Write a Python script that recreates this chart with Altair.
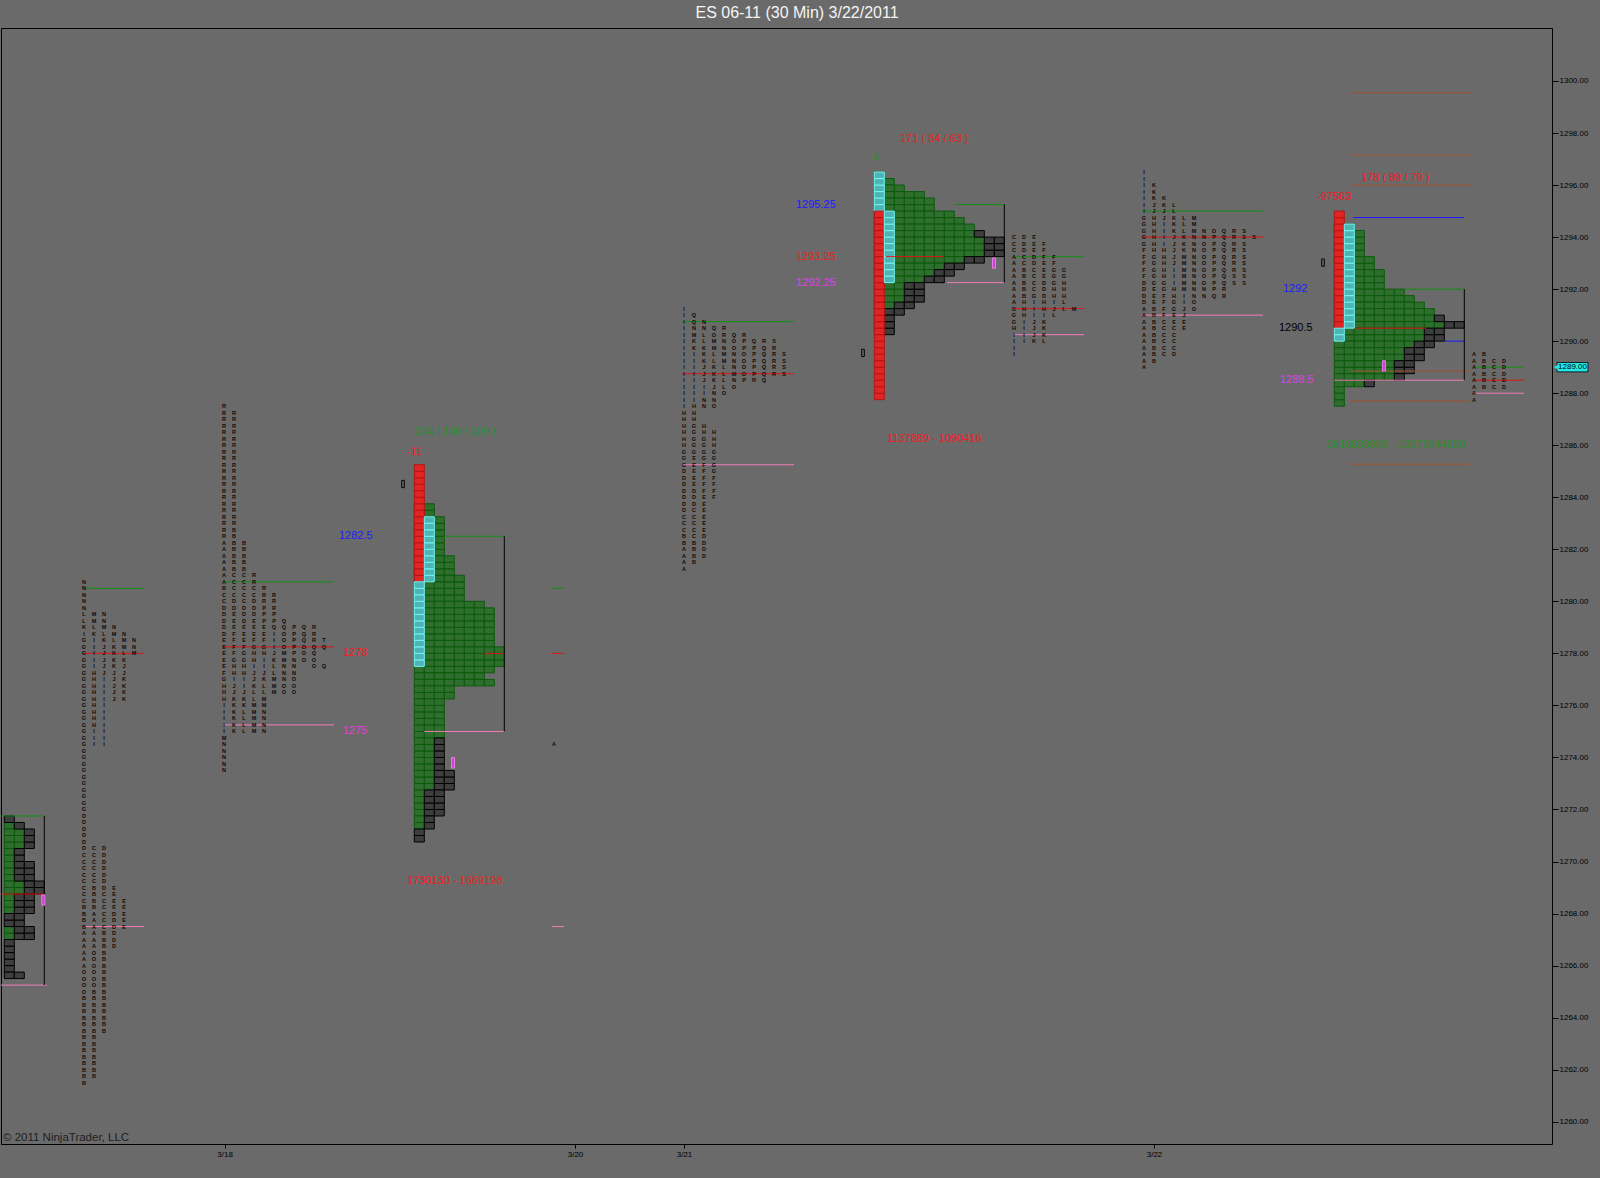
import altair as alt
import pandas as pd

TICK = 0.25  # ES tick size

TITLE = "ES 06-11 (30 Min)  3/22/2011"
COPYRIGHT = "© 2011 NinjaTrader, LLC"
LAST_PRICE = 1289.00

PRICE_TICKS = [1260, 1262, 1264, 1266, 1268, 1270, 1272, 1274, 1276, 1278, 1280,
               1282, 1284, 1286, 1288, 1290, 1292, 1294, 1296, 1298, 1300]
# session dates on the bar-slot axis
DATE_SLOTS = [22.36, 57.4, 68.3, 115.3]
DATE_LABELS = ["3/18", "3/20", "3/21", "3/22"]

# ---- volume profiles: rows are (low, high, volume columns, recent columns) ----
P0_START = 0.33
P0_ROWS = [
    (1271.50, 1271.75, 0, 1),
    (1271.25, 1271.50, 1, 1),
    (1270.50, 1271.25, 2, 1),
    (1270.00, 1270.50, 1, 1),
    (1269.25, 1270.00, 1, 2),
    (1268.75, 1269.25, 2, 2),
    (1268.00, 1268.75, 1, 2),
    (1267.50, 1268.00, 0, 2),
    (1267.00, 1267.50, 1, 2),
    (1265.75, 1267.00, 0, 1),
    (1265.50, 1265.75, 0, 2),
]
P0_BANDS = []

P3_START = 41.33
P3_ROWS = [
    (1283.25, 1283.75, 2, 0),
    (1281.75, 1283.25, 3, 0),
    (1281.00, 1281.75, 4, 0),
    (1280.00, 1281.00, 5, 0),
    (1279.75, 1280.00, 7, 0),
    (1278.25, 1279.75, 8, 0),
    (1277.50, 1278.25, 9, 0),
    (1277.25, 1277.50, 8, 0),
    (1277.00, 1277.25, 7, 0),
    (1276.75, 1277.00, 8, 0),
    (1276.25, 1276.75, 4, 0),
    (1274.75, 1276.25, 3, 0),
    (1273.50, 1274.75, 2, 1),
    (1272.75, 1273.50, 2, 2),
    (1271.75, 1272.75, 1, 2),
    (1271.25, 1271.75, 1, 1),
    (1270.75, 1271.25, 0, 1),
]
# (column, band, low, high): initial balance (red) and opening range (cyan)
P3_BANDS = [(0, "ib", 1280.75, 1285.25), (0, "or", 1277.50, 1280.75), (1, "or", 1280.75, 1283.25)]

P5_START = 87.33
P5_ROWS = [
    (1296.25, 1296.50, 1, 0),
    (1296.00, 1296.25, 2, 0),
    (1295.75, 1296.00, 3, 0),
    (1295.50, 1295.75, 5, 0),
    (1295.00, 1295.50, 6, 0),
    (1294.75, 1295.00, 8, 0),
    (1294.50, 1294.75, 9, 0),
    (1294.25, 1294.50, 10, 0),
    (1294.00, 1294.25, 10, 1),
    (1293.25, 1294.00, 11, 2),
    (1293.00, 1293.25, 9, 2),
    (1292.75, 1293.00, 7, 2),
    (1292.50, 1292.75, 6, 2),
    (1292.25, 1292.50, 5, 2),
    (1291.50, 1292.25, 3, 2),
    (1291.25, 1291.50, 2, 2),
    (1291.00, 1291.25, 1, 2),
    (1290.25, 1291.00, 1, 1),
]
P5_BANDS = [(0, "or", 1295.00, 1296.50), (0, "ib", 1287.75, 1295.00), (1, "or", 1292.25, 1295.00)]

P6_START = 133.33
P6_ROWS = [
    (1294.25, 1294.50, 2, 0),
    (1293.25, 1294.25, 3, 0),
    (1292.75, 1293.25, 4, 0),
    (1292.00, 1292.75, 5, 0),
    (1291.75, 1292.00, 7, 0),
    (1291.50, 1291.75, 8, 0),
    (1291.25, 1291.50, 9, 0),
    (1291.00, 1291.25, 10, 0),
    (1290.75, 1291.00, 10, 1),
    (1290.50, 1290.75, 11, 2),
    (1290.00, 1290.50, 9, 2),
    (1289.75, 1290.00, 8, 2),
    (1289.25, 1289.75, 7, 2),
    (1288.75, 1289.25, 6, 2),
    (1288.50, 1288.75, 6, 1),
    (1288.25, 1288.50, 3, 1),
    (1287.50, 1288.25, 1, 0),
]
P6_BANDS = [(0, "ib", 1290.50, 1295.00), (0, "or", 1290.00, 1290.50), (1, "or", 1290.50, 1294.50)]

PROFILES = [
    (P0_START, P0_ROWS, P0_BANDS),
    (P3_START, P3_ROWS, P3_BANDS),
    (P5_START, P5_ROWS, P5_BANDS),
    (P6_START, P6_ROWS, P6_BANDS),
]

# ---- letter (TPO) profiles: (slot, top price, letters from the top down) ----
TPO_COLUMNS = [
    # 3/17
    (8.3, 1280.75, "NNNNNLLKIG" "GGGGGGGGGG" "GGGGGGGGGG" "GGGGGGDDDD" "DDCCCCCCCC"
                   "BBBBAAAAAA" "OOOOBBBBBB" "BBBBBBBB"),
    (9.3, 1279.50, "MMLKIIIIIH" "HHHHHHHHII" "I"),
    (9.3, 1270.50, "CCCCCCBBBB" "AAAAAAOOOO" "OOBBBBBBBB" "BBBBBB"),
    (10.3, 1279.50, "NNMLKJJJJJ" "IIIIIIIIII" "I"),
    (10.3, 1270.50, "DDDDDDDCCC" "CCCBBBBBBB" "BBBBBBBBB"),
    (11.3, 1279.00, "NMLKKKKJJJJJ"),
    (11.3, 1269.00, "EEEEDDDDDD"),
    (12.3, 1278.75, "NMMLKJJKKKK"),
    (12.3, 1268.50, "EEEEE"),
    (13.3, 1278.50, "NNM"),
    # 3/18
    (22.3, 1287.50, "RRRRRRRRRR" "RRRRRRRRRR" "RAAAAAAABC" "CDDDDDEEEE" "EFGHHHIIII" "IMNNNNN"),
    (23.3, 1287.25, "RRRRRRRRRR" "RRRRRRRRBB" "BBBBBCCCCD" "DEEEFFFFGH" "HIJJKKKKKK"),
    (24.3, 1282.25, "BBBBBCCCCC" "DDDEEEFGGH" "HIIJKKLLLL"),
    (25.3, 1281.00, "RRCCDDDEEE" "FGHHIJJKLL" "MMMMM"),
    (26.3, 1280.50, "RRRPPPEEFG" "HIIJKLLMMN" "NNN"),
    (27.3, 1280.25, "RRRPPQIIIJ" "KLLMMM"),
    (28.3, 1279.25, "QQOOOMMNNNOO"),
    (29.3, 1279.00, "PPPPPNNNOOO"),
    (30.3, 1279.00, "QQQOOO"),
    (31.3, 1279.00, "RRRQQOO"),
    (32.3, 1278.50, "TQ  Q"),
    # Sunday open
    (55.3, 1274.50, "A"),
    # 3/21 night
    (68.3, 1291.25, "IIIIIIIIII" "IIIIIIHHHH" "HHGGGDDDDD" "DDCCCBBAAA" "A"),
    (69.3, 1291.00, "QQNMKKIIII" "IIIIHHHGGG" "GGEEEEEDDD" "CCCCCBBBB"),
    (70.3, 1290.75, "NNLLKKKJJJ" "IINN"),
    (70.3, 1286.75, "HHGGGGFFFF" "FEEEEEEDDD" "D"),
    (71.3, 1290.50, "QOMMLLKKKJ" "NNO"),
    (71.3, 1286.50, "HHHGGGGFFF" "F"),
    (72.3, 1290.50, "RRNNMMLLLL" "O"),
    (73.3, 1290.25, "QOONNNMNO"),
    (74.3, 1290.25, "RPPOOOOP"),
    (75.3, 1290.00, "QPPPPPR"),
    (76.3, 1290.00, "RQQQQQQ"),
    (77.3, 1290.00, "SRRRRR"),
    (78.3, 1289.50, "SSSS"),
    # 3/21 day
    (101.3, 1294.00, "CCCAAAAAAA" "AGGGHIIII"),
    (102.3, 1294.00, "DDDCCBBBBB" "HHHIIII"),
    (103.3, 1294.00, "EEEDDCCCCG" "IIIJJJK"),
    (104.3, 1293.75, "FFFEEEDDDH" "HIKKKL"),
    (105.3, 1293.25, "FFGGGHHIJL"),
    (106.3, 1292.75, "GGHHHLL"),
    (107.3, 1291.25, "M"),
    # 3/22 night
    (114.3, 1296.50, "IIIIIIIGGG" "GGFFFFFDDD" "DAAAAAAAAA" "A"),
    (115.3, 1296.00, "KKKJJHHHHH" "HGGGGGEEEB" "BBBBBBBB"),
    (116.3, 1295.50, "KKJJIIIIHH" "HHHGGFFFFC" "CCCCC"),
    (117.3, 1295.25, "LLKKKJJJJJ" "IIIHHGGEEC" "CCCD"),
    (118.3, 1294.75, "LLLKKKMMMM" "MMIIJJEE"),
    (119.3, 1294.75, "MMMNNNNNNN" "NNNOO"),
    (120.3, 1294.25, "NNOOOOOOONN"),
    (121.3, 1294.25, "OPPPPPPPPPQ"),
    (122.3, 1294.25, "QQQQQQQQQRR"),
    (123.3, 1294.25, "RRRRRRRSS"),
    (124.3, 1294.25, "SSSSSSSSS"),
    (125.3, 1294.00, "S"),
    # 3/22 day
    (147.3, 1289.50, "AAAAAAAA"),
    (148.3, 1289.50, "BBBBBB"),
    (149.3, 1289.25, "CCCCC"),
    (150.3, 1289.25, "DDDDD"),
]

# ---- reference levels: (price, from slot, to slot, level type) ----
LEVELS = [
    (1271.75, 0.0, 4.33, "vah"), (1268.75, 0.0, 4.5, "poc"), (1265.25, 0.0, 4.57, "val"),
    (1280.50, 8.2, 14.3, "vah"), (1278.00, 8.2, 14.3, "poc"), (1267.50, 8.4, 14.3, "val"),
    (1280.75, 22.2, 33.3, "vah"), (1278.25, 22.2, 33.3, "poc"), (1275.25, 22.2, 33.3, "val"),
    (1282.50, 44.33, 50.33, "vah"), (1278.00, 48.33, 50.33, "poc"), (1275.00, 42.33, 50.33, "val"),
    (1280.50, 55.1, 56.3, "vah"), (1278.00, 55.1, 56.3, "poc"), (1267.50, 55.1, 56.3, "val"),
    (1290.75, 68.1, 79.3, "vah"), (1288.75, 68.1, 79.3, "poc"), (1285.25, 68.1, 79.3, "val"),
    (1295.25, 95.33, 100.33, "vah"), (1293.25, 88.5, 94.3, "poc"), (1292.25, 94.6, 100.33, "val"),
    (1293.25, 101.2, 108.3, "vah"), (1291.25, 101.2, 108.3, "poc"), (1290.25, 101.2, 108.3, "val"),
    (1295.00, 114.1, 126.2, "vah"), (1294.00, 114.1, 126.2, "poc"), (1291.00, 114.1, 126.2, "val"),
    (1299.55, 135.0, 147.0, "ext"), (1297.15, 135.0, 147.0, "ext"), (1296.00, 135.0, 147.0, "ext"),
    (1288.85, 135.0, 146.8, "ext"), (1287.70, 134.9, 146.8, "ext"), (1285.27, 134.9, 146.8, "ext"),
    (1294.75, 135.2, 146.3, "ib"), (1290.00, 144.37, 146.33, "ib"),
    (1292.00, 140.37, 146.33, "vah"), (1290.50, 135.4, 142.5, "poc"), (1288.50, 133.33, 146.33, "val"),
    (1289.00, 147.2, 152.3, "vah"), (1288.50, 147.2, 152.3, "poc"), (1288.00, 147.2, 152.3, "val"),
]
# value-area brackets: (slot, low, high)
BRACKETS = [(4.33, 1265.25, 1271.75), (50.33, 1275.00, 1282.50),
            (100.33, 1292.25, 1295.25), (146.33, 1288.50, 1292.00)]

# ---- profile statistics: (text, slot, price, tone) ----
NOTES = [
    ("234 ( 106 / 109 )", 41.4, 1286.50, "green"),
    ("-11", 40.6, 1285.75, "red"),
    ("1282.5", 33.8, 1282.50, "blue"),
    ("1278", 34.2, 1278.00, "red"),
    ("1275", 34.2, 1275.00, "magenta"),
    ("1730130 - 1669198", 40.6, 1269.25, "red"),
    ("171 ( 84 / 63 )", 89.9, 1297.77, "red"),
    ("4", 87.2, 1297.04, "green"),
    ("1295.25", 79.5, 1295.25, "blue"),
    ("1293.25", 79.5, 1293.25, "red"),
    ("1292.25", 79.5, 1292.25, "magenta"),
    ("1137889 - 1090416", 88.6, 1286.24, "red"),
    ("178 ( 89 / 79 )", 136.0, 1296.27, "red"),
    ("-97563", 131.6, 1295.54, "red"),
    ("1292", 128.2, 1292.00, "blue"),
    ("1290.5", 127.8, 1290.50, "black"),
    ("1288.5", 127.9, 1288.50, "magenta"),
    ("2616839059 - 13079644820", 132.6, 1286.00, "green"),
]
# open markers and single-print markers: (slot, price)
OPEN_MARKS = [(40.2, 1284.51), (86.2, 1289.55), (132.2, 1293.02)]
SINGLE_MARKS = [(4.23, 1268.52), (45.2, 1273.79), (99.3, 1293.00), (138.3, 1289.05)]

# ---- styling ----
BG = "#6a6a6a"
FONT = "Liberation Sans"
BOX_FILL = {"volume": "#2f6e2f", "recent": "#3e3e3e", "ib": "#e12424", "or": "#4fb4b4"}
BOX_EDGE = {"volume": "#0b5a0b", "recent": "#000000", "ib": "#b51414", "or": "#72f6f6"}
LEVEL_COLOR = {"vah": "#129012", "poc": "#e01414", "val": "#f27cb8", "ext": "#a0522d", "ib": "#1a1aff"}
TONE_COLOR = {"green": "#2a8f2a", "red": "#ee2020", "blue": "#1c1cff",
              "magenta": "#e23ce2", "black": "#000000"}


def profile_boxes(start, rows, bands):
    boxes = []
    for low, high, n_vol, n_recent in rows:
        for s in range(round((high - low) / TICK)):
            lo = low + s * TICK
            for c in range(n_vol + n_recent):
                kind = "volume" if c < n_vol else "recent"
                boxes.append((start + c, start + c + 1, lo, lo + TICK, kind))
    for col, kind, low, high in bands:
        for s in range(round((high - low) / TICK)):
            lo = low + s * TICK
            boxes.append((start + col, start + col + 1, lo, lo + TICK, kind))
    return boxes


box_rows = []
for start, rows, bands in PROFILES:
    box_rows += profile_boxes(start, rows, bands)
boxes = pd.DataFrame(box_rows, columns=["x", "x2", "y", "y2", "kind"])
boxes["fill"] = boxes["kind"].map(BOX_FILL)
boxes["edge"] = boxes["kind"].map(BOX_EDGE)

letter_rows = []
for slot, top, letters in TPO_COLUMNS:
    for i, ch in enumerate(letters):
        if ch != " ":
            letter_rows.append((slot, top - i * TICK, ch))
letters_df = pd.DataFrame(letter_rows, columns=["x", "y", "t"])

levels = pd.DataFrame(LEVELS, columns=["y", "x", "x2", "kind"])
levels["color"] = levels["kind"].map(LEVEL_COLOR)
brackets = pd.DataFrame(BRACKETS, columns=["x", "y", "y2"])
notes = pd.DataFrame(NOTES, columns=["t", "x", "y", "tone"])
notes["color"] = notes["tone"].map(TONE_COLOR)
opens = pd.DataFrame(OPEN_MARKS, columns=["x", "y"])
singles = pd.DataFrame(SINGLE_MARKS, columns=["x", "y"])


def date_label_expr(slots, labels):
    expr = ""
    for i in range(len(slots) - 1):
        expr += f"datum.value < {(slots[i] + slots[i + 1]) / 2} ? '{labels[i]}' : "
    return expr + f"'{labels[-1]}'"


XS = alt.Scale(domain=[0, 155.1], nice=False, zero=False)
YS = alt.Scale(domain=[1259.142, 1302.037], nice=False, zero=False)
XAXIS = alt.Axis(values=DATE_SLOTS, labelExpr=date_label_expr(DATE_SLOTS, DATE_LABELS),
                 grid=False, domain=False, tickSize=4, tickColor="#000000",
                 labelColor="#000000", labelFontSize=8, labelFont=FONT, labelPadding=2,
                 labelFlush=False, labelOverlap=False, title=None)
YAXIS = alt.Axis(orient="right", values=PRICE_TICKS, format=".2f", grid=False, domain=False,
                 tickSize=6, tickColor="#000000", labelColor="#000000", labelFontSize=8,
                 labelFont=FONT, labelPadding=1, labelFlush=False, labelOverlap=False, title=None)


def X(field="x"):
    return alt.X(f"{field}:Q", scale=XS, axis=XAXIS, title=None)


def Y(field="y"):
    return alt.Y(f"{field}:Q", scale=YS, axis=YAXIS, title=None)


def box_layer(df):
    return alt.Chart(df).mark_rect(strokeWidth=1).encode(
        x=X(), x2="x2:Q", y=Y(), y2="y2:Q",
        fill=alt.Fill("fill:N", scale=None), stroke=alt.Stroke("edge:N", scale=None))


vol_layer = box_layer(boxes[boxes["kind"] == "volume"])
recent_layer = box_layer(boxes[boxes["kind"] == "recent"])
band_layer = box_layer(boxes[boxes["kind"].isin(["ib", "or"])])

level_layer = alt.Chart(levels).mark_rule(strokeWidth=1).encode(
    x=X(), x2="x2:Q", y=Y(), color=alt.Color("color:N", scale=None))
bracket_layer = alt.Chart(brackets).mark_rule(strokeWidth=1, color="#000000").encode(
    x=X(), y=Y(), y2="y2:Q")

letter_layer = alt.Chart(letters_df).mark_text(
    fontSize=5.5, fontWeight="bold", font=FONT, color="#0a0a0a", align="center", baseline="middle"
).encode(x=X(), y=Y(), text="t:N")

note_layer = alt.Chart(notes).mark_text(
    fontSize=11, font=FONT, align="left", baseline="middle"
).encode(x=X(), y=Y(), text="t:N", color=alt.Color("color:N", scale=None))

open_layer = alt.Chart(opens).transform_calculate(
    xa="datum.x - 0.13", xb="datum.x + 0.13", ya="datum.y - 0.14", yb="datum.y + 0.14"
).mark_rect(fill=BG, stroke="#000000", strokeWidth=1).encode(
    x=X("xa"), x2="xb:Q", y=Y("ya"), y2="yb:Q")

single_layer = alt.Chart(singles).transform_calculate(
    xa="datum.x - 0.15", xb="datum.x + 0.15", ya="datum.y - 0.2", yb="datum.y + 0.2"
).mark_rect(fill="#d63cd6", stroke="#f08af0", strokeWidth=0.8).encode(
    x=X("xa"), x2="xb:Q", y=Y("ya"), y2="yb:Q")

tag = alt.Chart(pd.DataFrame({"y": [LAST_PRICE], "t": [f"{LAST_PRICE:.2f}"]}))
tag_box = tag.transform_calculate(ya="datum.y - 0.18", yb="datum.y + 0.18").mark_rect(
    fill="#22e8e8", stroke="#000000", strokeWidth=0.8
).encode(x=alt.value(1556), x2=alt.value(1587), y=Y("ya"), y2="yb:Q")
tag_tip = tag.mark_point(shape="triangle-left", filled=True, size=28, color="#22e8e8",
                         opacity=1).encode(x=alt.value(1555), y=Y())
tag_text = tag.mark_text(fontSize=8, font=FONT, color="#000000", align="center",
                         baseline="middle").encode(x=alt.value(1571.5), y=Y(), text="t:N")

credit = alt.Chart(pd.DataFrame({"t": [COPYRIGHT]})).mark_text(
    fontSize=11.5, font=FONT, color="#1e1e1e", align="left", baseline="middle"
).encode(x=alt.value(2), y=alt.value(1110), text="t:N")

# chart heading, centred in the bar above the price pane
heading = alt.Chart(pd.DataFrame({"t": [TITLE]})).mark_text(
    fontSize=16, font=FONT, color="#f4f4f4", align="center", baseline="middle"
).encode(x=alt.value(796), y=alt.value(-15), text="t:N")

chart = alt.layer(
    vol_layer, recent_layer, band_layer, level_layer, bracket_layer,
    letter_layer, note_layer, open_layer, single_layer,
    tag_box, tag_tip, tag_text, credit, heading,
).properties(
    width=1551,
    height=1116,
    padding={"left": 1, "top": 28, "right": 48, "bottom": 34},
    autosize=alt.AutoSizeParams(type="none"),
    background=BG,
).configure_view(stroke="#000000", strokeWidth=1)

chart.save("out.html", embed_options={"renderer": "svg", "actions": False})
